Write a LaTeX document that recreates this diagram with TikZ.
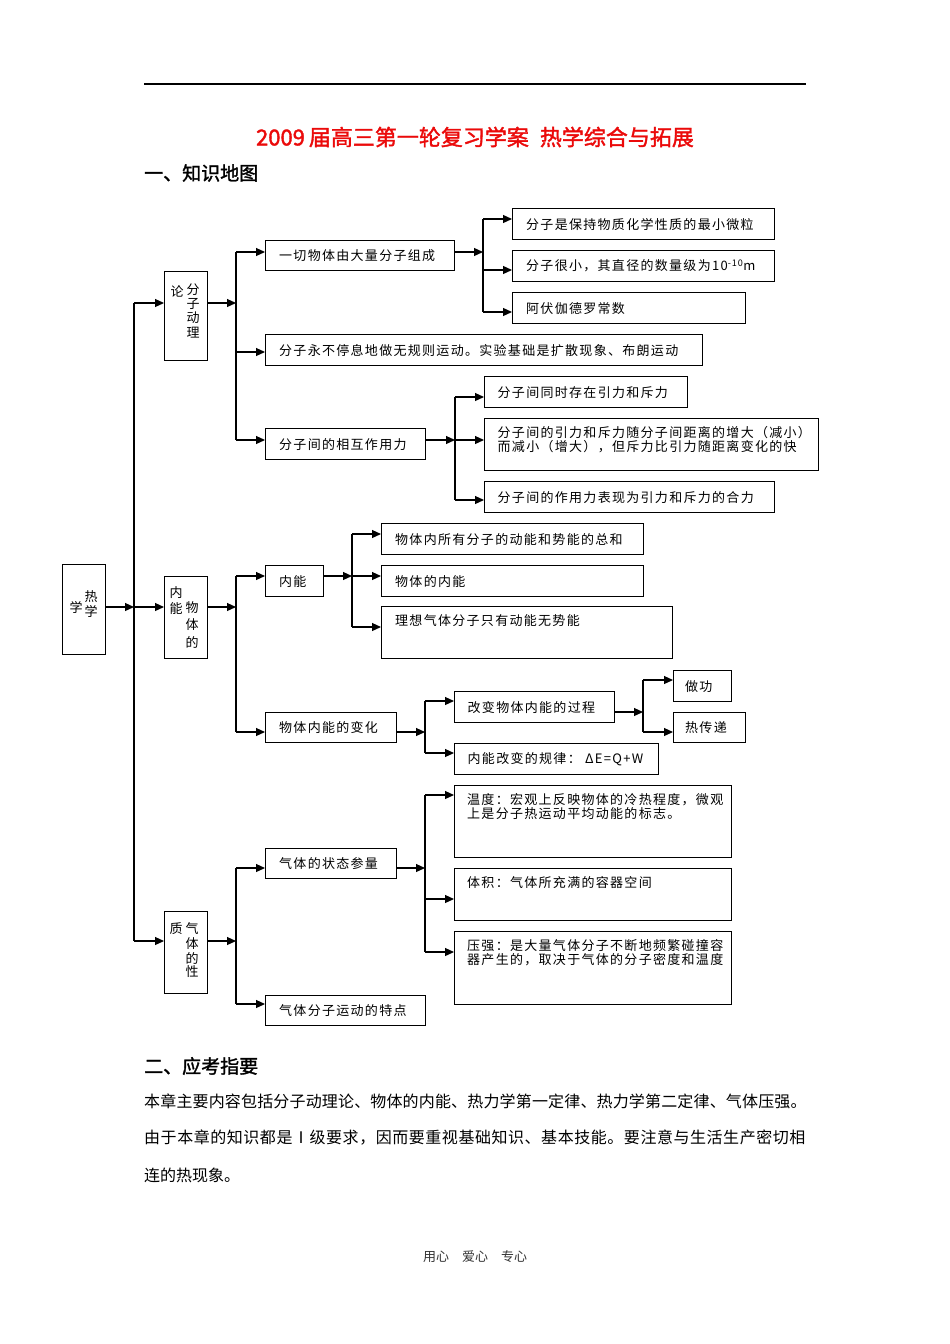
\documentclass[tikz,border=0pt]{standalone}
\usepackage{fontspec}
\usetikzlibrary{arrows.meta}
\newfontfamily\cjk{Noto Sans CJK SC}
\newfontfamily\cjkbox[LetterSpace=10]{Noto Sans CJK SC}
\newfontfamily\cjkhead[FakeBold=1.6]{Noto Sans CJK SC}
\newfontfamily\cjkpa[LetterSpace=1]{Noto Sans CJK SC}
\newfontfamily\cjkpb[LetterSpace=3.4]{Noto Sans CJK SC}
\definecolor{titlered}{RGB}{235,10,10}
\tikzset{
  bx/.style={draw, line width=1.2pt, inner sep=0pt, anchor=north west},
  txt/.style={font=\cjkbox\fontsize{13}{14}\selectfont, inner sep=0pt, align=left, anchor=west},
  ttxt/.style={txt, anchor=north west},
  vch/.style={font=\cjk\fontsize{13}{13}\selectfont, inner sep=0pt},
  arr/.style={line width=1.2pt, -{Triangle[length=9pt,width=8pt]}},
  ln/.style={line width=1.2pt},
  head/.style={font=\cjkhead\fontsize{19}{19}\selectfont, inner sep=0pt, anchor=west},
  para/.style={inner sep=0pt, anchor=west},
}
\begin{document}
\begin{tikzpicture}[x=1pt,y=-1pt]
\fill[white] (0,0) rectangle (950,1344);
\useasboundingbox (0,0) rectangle (950,1344);

% header
\coordinate (rl) at (144,84);
\coordinate (rr) at (806,84);
\draw[line width=1.3pt] (rl) -- (rr);
\node[font=\cjkhead\fontsize{22}{22}\selectfont, text=titlered, inner sep=0pt] (title) at (475,137) {2009\hspace{4pt}届高三第一轮复习学案\hspace{11pt}热学综合与拓展};
\node[head] (h1) at (144,173) {一、知识地图};

% level 0
\node[bx, minimum width=43, minimum height=90] (R) at (62,564) {};
\node[vch] (R1) at (91,597) {热};
\node[vch] (R2) at (76,607) {学};
\node[vch] (R3) at (91,611) {学};

% level 1
\node[bx, minimum width=43, minimum height=89] (A) at (164,271) {};
\node[vch] (Ac1) at (177,291) {论};
\node[vch] (Ac2) at (193,290) {分};
\node[vch] (Ac3) at (193,304) {子};
\node[vch] (Ac4) at (193,318) {动};
\node[vch] (Ac5) at (193,333) {理};

\node[bx, minimum width=43, minimum height=82] (B) at (164,576) {};
\node[vch] (Bc1) at (176,593) {内};
\node[vch] (Bc2) at (176,609) {能};
\node[vch] (Bc3) at (192,608) {物};
\node[vch] (Bc4) at (192,625) {体};
\node[vch] (Bc5) at (192,642) {的};

\node[bx, minimum width=43, minimum height=82] (C) at (164,911) {};
\node[vch] (Cc1) at (176,929) {质};
\node[vch] (Cc2) at (192,929) {气};
\node[vch] (Cc3) at (192,944) {体};
\node[vch] (Cc4) at (192,958) {的};
\node[vch] (Cc5) at (192,972) {性};

% level 2
\node[bx, minimum width=189, minimum height=30] (A1) at (265,240) {};
\node[txt] (tA1) at ([xshift=14pt]A1.west) {一切物体由大量分子组成};
\node[bx, minimum width=437, minimum height=31] (A2) at (265,334) {};
\node[txt] (tA2) at ([xshift=14pt]A2.west) {分子永不停息地做无规则运动。实验基础是扩散现象、布朗运动};
\node[bx, minimum width=160, minimum height=31] (A3) at (265,428) {};
\node[txt] (tA3) at ([xshift=14pt]A3.west) {分子间的相互作用力};
\node[bx, minimum width=58, minimum height=31] (B1) at (265,565) {};
\node[txt] (tB1) at ([xshift=14pt]B1.west) {内能};
\node[bx, minimum width=131, minimum height=30] (B2) at (265,712) {};
\node[txt] (tB2) at ([xshift=14pt]B2.west) {物体内能的变化};
\node[bx, minimum width=131, minimum height=30] (C1) at (265,848) {};
\node[txt] (tC1) at ([xshift=14pt]C1.west) {气体的状态参量};
\node[bx, minimum width=160, minimum height=30] (C2) at (265,995) {};
\node[txt] (tC2) at ([xshift=14pt]C2.west) {气体分子运动的特点};

% level 3
\node[bx, minimum width=262, minimum height=31] (A1a) at (512,208) {};
\node[txt] (tA1a) at ([xshift=14pt]A1a.west) {分子是保持物质化学性质的最小微粒};
\node[bx, minimum width=262, minimum height=31] (A1b) at (512,250) {};
\node[txt] (tA1b) at ([xshift=14pt]A1b.west) {分子很小，其直径的数量级为10\textsuperscript{-10}m};
\node[bx, minimum width=233, minimum height=31] (A1c) at (512,292) {};
\node[txt] (tA1c) at ([xshift=14pt]A1c.west) {阿伏伽德罗常数};

\node[bx, minimum width=203, minimum height=31] (A3a) at (484,376) {};
\node[txt] (tA3a) at ([xshift=13.5pt]A3a.west) {分子间同时存在引力和斥力};
\node[bx, minimum width=334, minimum height=52] (A3b) at (484,418) {};
\node[ttxt] (tA3b) at ([xshift=13.5pt,yshift=-8pt]A3b.north west) {分子间的引力和斥力随分子间距离的增大（减小）\\而减小（增大），但斥力比引力随距离变化的快};
\node[bx, minimum width=290, minimum height=31] (A3c) at (484,481) {};
\node[txt] (tA3c) at ([xshift=13.5pt]A3c.west) {分子间的作用力表现为引力和斥力的合力};

\node[bx, minimum width=262, minimum height=31] (B1a) at (381,523) {};
\node[txt] (tB1a) at ([xshift=14pt]B1a.west) {物体内所有分子的动能和势能的总和};
\node[bx, minimum width=262, minimum height=31] (B1b) at (381,565) {};
\node[txt] (tB1b) at ([xshift=14pt]B1b.west) {物体的内能};
\node[bx, minimum width=291, minimum height=52] (B1c) at (381,606) {};
\node[ttxt] (tB1c) at ([xshift=14pt,yshift=-8pt]B1c.north west) {理想气体分子只有动能无势能};

\node[bx, minimum width=160, minimum height=31] (B2a) at (454,691) {};
\node[txt] (tB2a) at ([xshift=13.5pt]B2a.west) {改变物体内能的过程};
\node[bx, minimum width=204, minimum height=31] (B2b) at (454,743) {};
\node[txt] (tB2b) at ([xshift=13.5pt]B2b.west) {内能改变的规律： ΔE=Q+W};
\node[bx, minimum width=58, minimum height=31] (B2a1) at (673,670) {};
\node[txt] (tB2a1) at ([xshift=12pt]B2a1.west) {做功};
\node[bx, minimum width=72, minimum height=30] (B2a2) at (673,712) {};
\node[txt] (tB2a2) at ([xshift=12pt]B2a2.west) {热传递};

\node[bx, minimum width=277, minimum height=72] (C1a) at (454,785) {};
\node[ttxt] (tC1a) at ([xshift=13pt,yshift=-8pt]C1a.north west) {温度：宏观上反映物体的冷热程度，微观\\上是分子热运动平均动能的标志。};
\node[bx, minimum width=277, minimum height=52] (C1b) at (454,868) {};
\node[ttxt] (tC1b) at ([xshift=13pt,yshift=-8pt]C1b.north west) {体积：气体所充满的容器空间};
\node[bx, minimum width=277, minimum height=73] (C1c) at (454,931) {};
\node[ttxt] (tC1c) at ([xshift=13pt,yshift=-8pt]C1c.north west) {压强：是大量气体分子不断地频繁碰撞容\\器产生的，取决于气体的分子密度和温度};

% spine S0
\coordinate (s0t) at (134,303);
\coordinate (s0m) at (134,607);
\coordinate (s0b) at (134,941);
\draw[arr] (R.east |- s0m) -- (s0m);
\draw[ln] (s0t) -- (s0b);
\draw[arr] (s0t) -- (s0t -| A.west);
\draw[arr] (s0m) -- (s0m -| B.west);
\draw[arr] (s0b) -- (s0b -| C.west);

% spine S1
\coordinate (s1a) at (236,252);
\coordinate (s1p) at (236,303);
\coordinate (s1b) at (236,352);
\coordinate (s1c) at (236,440);
\draw[arr] (A.east |- s1p) -- (s1p);
\draw[ln] (s1a) -- (s1c);
\draw[arr] (s1a) -- (s1a -| A1.west);
\draw[arr] (s1b) -- (s1b -| A2.west);
\draw[arr] (s1c) -- (s1c -| A3.west);

% spine S2
\coordinate (s2a) at (483,219);
\coordinate (s2p) at (483,252);
\coordinate (s2b) at (483,270);
\coordinate (s2c) at (483,312);
\draw[arr] (A1.east |- s2p) -- (s2p);
\draw[ln] (s2a) -- (s2c);
\draw[arr] (s2a) -- (s2a -| A1a.west);
\draw[arr] (s2b) -- (s2b -| A1b.west);
\draw[arr] (s2c) -- (s2c -| A1c.west);

% spine S3
\coordinate (s3a) at (455,397);
\coordinate (s3p) at (455,440);
\coordinate (s3c) at (455,500);
\draw[arr] (A3.east |- s3p) -- (s3p);
\draw[ln] (s3a) -- (s3c);
\draw[arr] (s3a) -- (s3a -| A3a.west);
\draw[arr] (s3p) -- (s3p -| A3b.west);
\draw[arr] (s3c) -- (s3c -| A3c.west);

% spine S4
\coordinate (s4a) at (236,576);
\coordinate (s4p) at (236,607);
\coordinate (s4b) at (236,732);
\draw[arr] (B.east |- s4p) -- (s4p);
\draw[ln] (s4a) -- (s4b);
\draw[arr] (s4a) -- (s4a -| B1.west);
\draw[arr] (s4b) -- (s4b -| B2.west);

% spine S5
\coordinate (s5a) at (352,534);
\coordinate (s5p) at (352,576);
\coordinate (s5c) at (352,627);
\draw[arr] (B1.east |- s5p) -- (s5p);
\draw[ln] (s5a) -- (s5c);
\draw[arr] (s5a) -- (s5a -| B1a.west);
\draw[arr] (s5p) -- (s5p -| B1b.west);
\draw[arr] (s5c) -- (s5c -| B1c.west);

% spine S6
\coordinate (s6a) at (425,701);
\coordinate (s6p) at (425,732);
\coordinate (s6b) at (425,753);
\draw[arr] (B2.east |- s6p) -- (s6p);
\draw[ln] (s6a) -- (s6b);
\draw[arr] (s6a) -- (s6a -| B2a.west);
\draw[arr] (s6b) -- (s6b -| B2b.west);

% spine S7
\coordinate (s7a) at (643,680);
\coordinate (s7p) at (643,712);
\coordinate (s7b) at (643,732);
\draw[arr] (B2a.east |- s7p) -- (s7p);
\draw[ln] (s7a) -- (s7b);
\draw[arr] (s7a) -- (s7a -| B2a1.west);
\draw[arr] (s7b) -- (s7b -| B2a2.west);

% spine S8
\coordinate (s8a) at (236,868);
\coordinate (s8p) at (236,941);
\coordinate (s8b) at (236,1004);
\draw[arr] (C.east |- s8p) -- (s8p);
\draw[ln] (s8a) -- (s8b);
\draw[arr] (s8a) -- (s8a -| C1.west);
\draw[arr] (s8b) -- (s8b -| C2.west);

% spine S9
\coordinate (s9a) at (425,795);
\coordinate (s9p) at (425,868);
\coordinate (s9b) at (425,899);
\coordinate (s9c) at (425,952);
\draw[arr] (C1.east |- s9p) -- (s9p);
\draw[ln] (s9a) -- (s9c);
\draw[arr] (s9a) -- (s9a -| C1a.west);
\draw[arr] (s9b) -- (s9b -| C1b.west);
\draw[arr] (s9c) -- (s9c -| C1c.west);

% bottom section
\node[head] (h2) at (144,1066) {二、应考指要};
\node[para, font=\cjkpa\fontsize{16}{16}\selectfont] (p1) at (144,1101) {本章主要内容包括分子动理论、物体的内能、热力学第一定律、热力学第二定律、气体压强。};
\node[para, font=\cjkpb\fontsize{16}{16}\selectfont] (p2) at (144,1138) {由于本章的知识都是Ⅰ级要求，因而要重视基础知识、基本技能。要注意与生活生产密切相};
\node[para, font=\cjk\fontsize{16}{16}\selectfont] (p3) at (144,1175) {连的热现象。};

\node[font=\cjk\fontsize{13}{13}\selectfont, inner sep=0pt, text=black!80] (foot) at (475,1257) {用心\hspace{13pt}爱心\hspace{13pt}专心};
\end{tikzpicture}
\end{document}
